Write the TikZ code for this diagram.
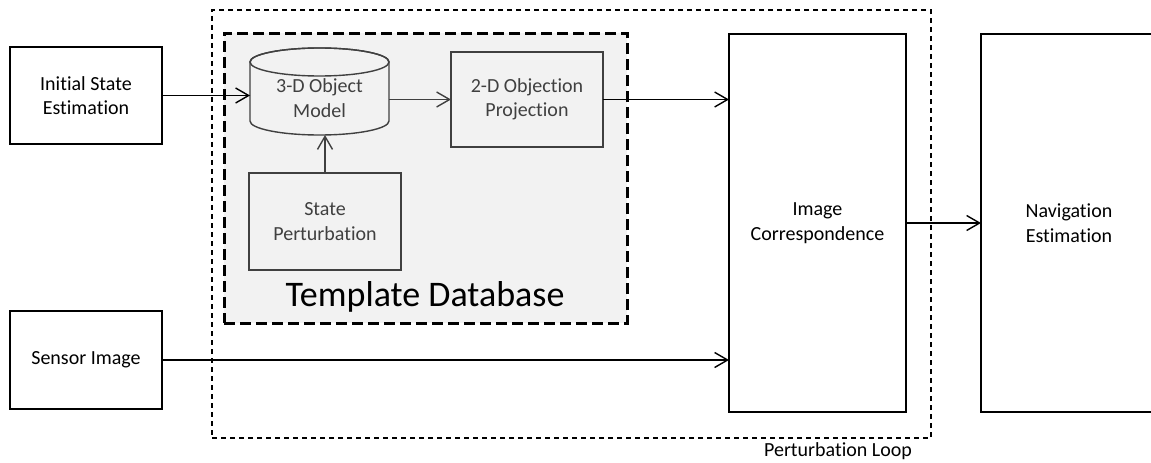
\documentclass[tikz,border=0pt]{standalone}
\usepackage{fontspec}
\setmainfont[Ligatures={NoCommon,NoDiscretionary,NoRare}]{Carlito}
\usetikzlibrary{arrows.meta}
\definecolor{tdbg}{HTML}{F2F2F2}
\definecolor{ingray}{HTML}{404040}
\begin{document}
\begin{tikzpicture}[x=1pt,y=-1pt,
  font=\fontsize{20}{24.5}\selectfont,
  box/.style={draw=black,line width=1.4pt,inner sep=0pt,outer sep=0pt,align=center,text=black},
  inbox/.style={draw=ingray,line width=1.4pt,inner sep=0pt,outer sep=0pt,align=center,text=ingray,fill=tdbg},
  arr/.style={line width=1.4pt,draw=black,-{Straight Barb[length=13pt,width=15pt,line width=1.4pt]}},
  inarr/.style={line width=1.4pt,draw=ingray,-{Straight Barb[length=13pt,width=15pt,line width=1.4pt]}},
  loopdash/.style={draw=black,line width=1.3pt,dash pattern=on 5pt off 4pt},
  tddash/.style={draw=black,line width=3pt,dash pattern=on 11pt off 5pt,fill=tdbg}
]
\useasboundingbox (0,0) rectangle (1151,463);
\clip (0,0) rectangle (1151,463);
\fill[white] (0,0) rectangle (1151,463);

% perturbation loop
\node[loopdash,inner sep=0pt,outer sep=0pt,minimum width=719pt,minimum height=428pt] (loop) at (571.5,224) {};
\node[anchor=center] (looplabel) at (838,451) {Perturbation Loop};

% template database
\node[tddash,inner sep=0pt,outer sep=0pt,minimum width=403pt,minimum height=290pt] (tdb) at (425.5,178) {};
\node[anchor=base,font=\fontsize{36}{40}\selectfont] (tdblabel) at (425,306) {Template Database};

% outer boxes
\node[box,minimum width=152pt,minimum height=97pt] (init) at (86,95.5) {Initial State\\Estimation};
\node[box,minimum width=152pt,minimum height=98pt] (sensor) at (86,360) {Sensor Image};
\node[box,minimum width=177pt,minimum height=378pt] (img) at (817.5,223) {Image\\Correspondence};
\node[box,minimum width=176pt,minimum height=378pt] (nav) at (1069,223) {Navigation\\Estimation};

% inner boxes
\node[inbox,minimum width=152pt,minimum height=95pt] (twod) at (527,99.5) {2-D Objection\\Projection};
\node[inbox,minimum width=152pt,minimum height=97pt] (sp) at (325,221.5) {State\\Perturbation};

% cylinder
\node[inner sep=0pt,outer sep=0pt,minimum width=139pt,minimum height=87pt] (cyl) at (319.5,91.5) {};
\filldraw[fill=tdbg,draw=ingray,line width=1.4pt]
  (250,62) -- (250,121) arc[start angle=180,end angle=360,x radius=69.5pt,y radius=14pt]
  -- (389,62) arc[start angle=0,end angle=180,x radius=69.5pt,y radius=14pt] -- cycle;
\draw[draw=ingray,line width=1.4pt] (319.5,62) ellipse[x radius=69.5pt,y radius=14pt];
\node[align=center,text=ingray] (cyltext) at (319.5,98) {3-D Object\\Model};

% connectors
\draw[arr] (init.east) -- (init.east -| cyl.west);
\draw[inarr] (cyl.east |- twod.west) -- (twod.west);
\draw[arr] (twod.east) -- (twod.east -| img.west);
\draw[inarr] (sp.north) -- (sp.north |- cyl.south);
\draw[arr] (sensor.east) -- (sensor.east -| img.west);
\draw[arr] (img.east) -- (img.east -| nav.west);
\end{tikzpicture}
\end{document}
